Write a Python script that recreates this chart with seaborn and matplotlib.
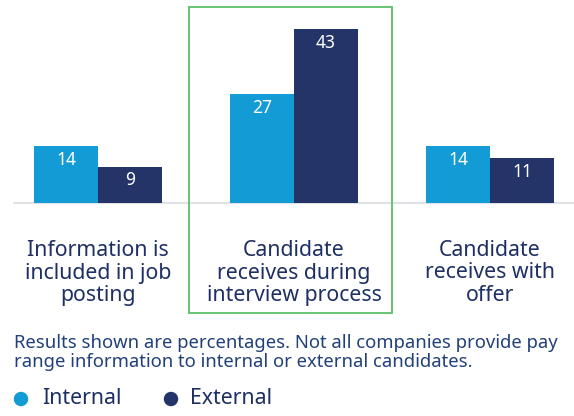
import matplotlib
matplotlib.use("Agg")
import matplotlib.pyplot as plt
import seaborn as sns
import pandas as pd
from matplotlib.patches import Rectangle, Ellipse

categories = ["Information is\nincluded in job\nposting",
              "Candidate\nreceives during\ninterview process",
              "Candidate\nreceives with\noffer"]
series = ["Internal", "External"]
internal = [14, 27, 14]
external = [9, 43, 11]
footnote = ("Results shown are percentages. Not all companies provide pay\n"
            "range information to internal or external candidates.")

C_INT = "#139bd6"
C_EXT = "#243469"
TXT = "#1d2f64"
NOTE = "#22407a"

df = pd.DataFrame({
    "cat": categories * 2,
    "series": [series[0]] * 3 + [series[1]] * 3,
    "value": internal + external,
})

sns.set_theme(style="white")
plt.rcParams["font.family"] = ["Noto Sans", "DejaVu Sans"]

W, H = 574, 416
fig = plt.figure(figsize=(W / 100, H / 100), dpi=100)
base_px = 203
ax = fig.add_axes([0, (H - base_px) / H, 1, base_px / H])
sns.barplot(data=df, x="cat", y="value", hue="series", order=categories,
            hue_order=series, palette=[C_INT, C_EXT], width=0.653,
            saturation=1, ax=ax, legend=False, linewidth=0)
unit = 196.0
xmin = -98 / unit
ax.set_xlim(xmin, xmin + W / unit)
ax.set_ylim(0, base_px / 4.05)
ax.axis("off")
ax.axhline(0, xmin=14 / W, xmax=1, color="#e1e1e8", lw=1.6, zorder=0, clip_on=False)

for cont in ax.containers:
    for bar, v in zip(cont, cont.datavalues):
        cx = bar.get_x() + bar.get_width() / 2
        ax.annotate(f"{int(v)}", (cx, v), xytext=(0, -10), textcoords="offset points",
                    ha="center", va="center", color="white", fontsize=12.5)

for i, c in enumerate(categories):
    ax.annotate(c, (i, 0), xytext=(0, -70 * 0.72), textcoords="offset points",
                ha="center", va="center", color=TXT, fontsize=15.3, linespacing=1.12,
                annotation_clip=False)

# highlight box
fig.patches.append(Rectangle((189 / W, (H - 313) / H), (392 - 189) / W, (313 - 7) / H,
                             transform=fig.transFigure, fill=False,
                             edgecolor="#4cbb5f", lw=1.2))

fig.text(14 / W, (H - 352.5) / H, footnote, ha="left", va="center", color=NOTE,
         fontsize=13.3, linespacing=1.12)

# legend
for lx, tx, col, lab in [(21, 42, C_INT, series[0]), (171, 190, C_EXT, series[1])]:
    fig.patches.append(Ellipse((lx / W, (H - 399) / H), 13 / W, 13 / H,
                               transform=fig.transFigure, color=col))
    fig.text(tx / W, (H - 399) / H, lab, ha="left", va="center", color=TXT,
             fontsize=15.3)

fig.savefig("out.png", dpi=100)
